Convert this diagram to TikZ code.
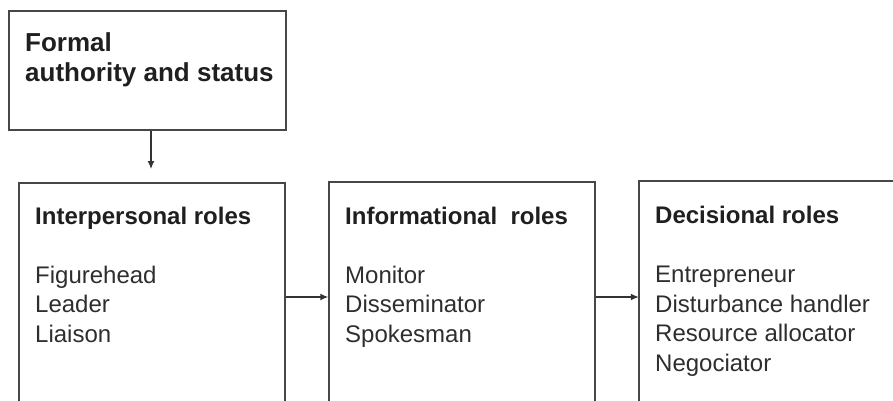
\documentclass[tikz,border=0pt]{standalone}
\usepackage{fontspec}
\setmainfont{Liberation Sans}
\usetikzlibrary{arrows.meta}
\begin{document}
\begin{tikzpicture}[x=1pt,y=-1pt,
  boxline/.style={draw=black!72, line width=1.5pt},
  box/.style={boxline, inner sep=0pt, rectangle},
  arr/.style={draw=black!80, line width=1.3pt, -{Latex[length=8pt,width=7pt]}},
  toptxt/.style={anchor=base west, inner sep=0pt, text=black!88, font=\bfseries\fontsize{26}{30}\selectfont},
  hdr/.style={anchor=base west, inner sep=0pt, text=black!88, font=\bfseries\fontsize{24}{29}\selectfont},
  item/.style={anchor=base west, inner sep=0pt, text=black!82, font=\fontsize{24}{29}\selectfont}]
\useasboundingbox (0,0) rectangle (893,401);
\clip (0,0) rectangle (893,401);
% boxes
\node[box, minimum width=277pt, minimum height=119pt] (top) at (147.5,70.5) {};
\node[box, minimum width=266pt, minimum height=228pt] (b1) at (152,297) {};
\node[box, minimum width=266pt, minimum height=230pt] (b2) at (462,297) {};
\node[inner sep=0pt, minimum width=300pt, minimum height=232pt] (b3) at (789,297) {};
\draw[boxline] (b3.south west) -- (b3.north west) -- (b3.north east);
% top text
\node[toptxt] (t1) at (25,51.7) {Formal};
\node[toptxt] (t2) at (25,81.7) {authority and status};
% box 1
\node[hdr] (h1) at (35,224) {Interpersonal roles};
\node[item] (a1) at (35,283) {Figurehead};
\node[item] (a2) at (35,312.5) {Leader};
\node[item] (a3) at (35,342) {Liaison};
% box 2
\node[hdr] (h2) at (345,224) {Informational~~roles};
\node[item] (c1) at (345,283) {Monitor};
\node[item] (c2) at (345,312.5) {Disseminator};
\node[item] (c3) at (345,342) {Spokesman};
% box 3
\node[hdr] (h3) at (655,223.5) {Decisional roles};
\node[item] (d1) at (655,282.5) {Entrepreneur};
\node[item] (d2) at (655,312) {Disturbance handler};
\node[item] (d3) at (655,341.5) {Resource allocator};
\node[item] (d4) at (655,371) {Negociator};
% connectors
\coordinate (tend) at (151,169);
\draw[arr] (top.south -| tend) -- (tend);
\draw[arr] (b1.east) -- (b2.west);
\draw[arr] (b2.east) -- (b3.west);
\end{tikzpicture}
\end{document}
